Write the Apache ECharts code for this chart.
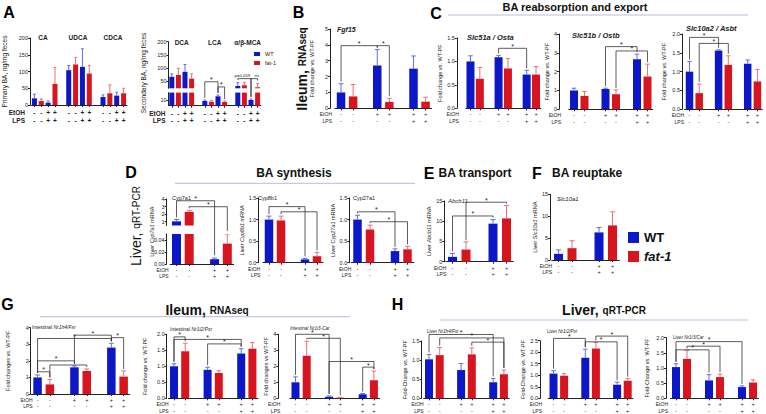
<!DOCTYPE html>
<html>
<head>
<meta charset="utf-8">
<script src="https://cdn.jsdelivr.net/npm/echarts@6.0.0/dist/echarts.min.js"></script>
<style>
html,body{margin:0;padding:0;background:#fff;}
#chart{width:766px;height:414px;}
</style>
</head>
<body>
<div id="chart"></div>
<script>
// ================= DATA =================
// treatment sign rows (tick labels)
const etoh6 = ['-', '-', '', '+', '+', '', '+', '+'];
const lps6  = ['-', '-', '', '-', '-', '', '+', '+'];
const etoh4 = ['-', '-', '', '+', '+'];
const lps4  = ['-', '-', '', '+', '+'];
const signsA = ['-', '-', '+', '+', '', '-', '-', '+', '+', '', '-', '-', '+', '+'];

// A: fecal bile acids (per BA: PF, EtOH+LPS)
const primaryBA = ['CA', 'UDCA', 'CDCA'];
const primary_wt = [20, 7, 104, 114, 24, 28];
const primary_wtSem = [12, 5, 14, 54, 6, 10];
const primary_fat = [12, 63, 121, 94, 35, 35];
const primary_fatSem = [6, 49, 21, 24, 25, 15];

const secondaryBA = ['DCA', 'LCA', 'α/β-MCA'];
const secondary_wt = [66, 85, 8.2, 16.5, 31, 10];
const secondary_wtSem = [11, 28, 1.8, 2.3, 12.6, 1.8];
const secondary_fat = [73, 59, 7, 6.5, 33.5, 26];
const secondary_fatSem = [25, 18, 2.4, 1.7, 11.5, 15];
const secondaryTicksTop = [50, 100, 150, 200];
const secondaryTicksBottom = [0, 10, 20];
const secondary_sig = [[5, 7, 42, '*'], [7, 8, 33, '*'], [10, 12, 47.5, 'p=0.059', 41.5, null, -2], [12, 13, 47.5, 'ns', null, 40.5, 2.5]];

// B: ileum Fgf15
const fgf15_wt = [1.0, 2.7, 2.5];
const fgf15_wtSem = [0.55, 1.0, 0.8];
const fgf15_fat = [0.75, 0.4, 0.42];
const fgf15_fatSem = [0.75, 0.23, 0.28];
const fgf15_sig = [[0, 3, 3.95, '*'], [3, 4, 3.95, '*']];

// C: reabsorption and export
const osta_wt = [1.0, 1.09, 0.72];
const osta_wtSem = [0.12, 0.04, 0.09];
const osta_fat = [0.63, 0.85, 0.72];
const osta_fatSem = [0.24, 0.21, 0.17];
const osta_sig = [[3, 6, 1.28, '*']];

const ostb_wt = [1.0, 1.08, 2.66];
const ostb_wtSem = [0.12, 0.04, 0.27];
const ostb_fat = [0.71, 0.8, 1.74];
const ostb_fatSem = [0.23, 0.23, 0.66];
const ostb_sig = [[3, 6, 3.33, '*'], [4, 7, 3.1, '*']];

const asbt_wt = [1.0, 1.56, 1.21];
const asbt_wtSem = [0.27, 0.02, 0.1];
const asbt_fat = [0.43, 1.18, 0.74];
const asbt_fatSem = [0.24, 0.24, 0.32];
const asbt_sig = [[0, 3, 1.91, '*'], [1, 4, 1.75, '*']];

// D: BA synthesis (PF, EtOH+LPS)
const cyp7a1_wt = [1.05, 0.008];
const cyp7a1_wtSem = [0.25, 0.002];
const cyp7a1_fat = [2.3, 0.034];
const cyp7a1_fatSem = [0.2, 0.016];
const cyp7a1_sig = [[0, 3, 3.77, '*', null, -3.7], [1, 4, 2.98, '*', null, -0.5]];

const cyp8b1_wt = [1.0, 0.077];
const cyp8b1_wtSem = [0.08, 0.023];
const cyp8b1_fat = [0.98, 0.15];
const cyp8b1_fatSem = [0.1, 0.09];
const cyp8b1_sig = [[0, 3, 1.3, '*'], [1, 4, 1.18, '*']];

const cyp27a1_wt = [1.0, 0.27];
const cyp27a1_wtSem = [0.1, 0.05];
const cyp27a1_fat = [0.77, 0.31];
const cyp27a1_fatSem = [0.1, 0.07];
const cyp27a1_sig = [[0, 3, 1.18, '*'], [1, 4, 0.95, '*']];

// E, F
const abcb11_wt = [1.2, 9.4];
const abcb11_wtSem = [0.85, 1.0];
const abcb11_fat = [3.0, 10.7];
const abcb11_fatSem = [1.9, 3.2];
const abcb11_sig = [[0, 3, 11.3, '*'], [1, 4, 14.7, '*']];

const slc10a1_wt = [1.4, 6.3];
const slc10a1_wtSem = [0.9, 1.1];
const slc10a1_fat = [2.7, 7.9];
const slc10a1_fatSem = [1.7, 3.1];

// G: ileum RNAseq
const iFxr_wt = [1.0, 1.61, 2.8];
const iFxr_wtSem = [0.15, 0.08, 0.26];
const iFxr_fat = [0.58, 1.39, 1.05];
const iFxr_fatSem = [0.3, 0.12, 0.34];
const iFxr_sig = [[0, 6, 3.35, '*'], [3, 6, 3.55, '*'], [6, 7, 3.4, '*'], [0, 3, 2.0, '*'], [1, 4, 1.75, ''], [0, 1, 1.34, '*']];

const iPxr_wt = [1.0, 0.89, 1.4];
const iPxr_wtSem = [0.08, 0.08, 0.15];
const iPxr_fat = [1.47, 0.79, 1.55];
const iPxr_fatSem = [0.25, 0.07, 0.19];
const iPxr_sig = [[0, 1, 1.92, '*'], [0, 6, 1.84, '*'], [3, 6, 1.7, '*']];

const iCar_wt = [1.0, 0.1, 0.25];
const iCar_wtSem = [0.34, 0.05, 0.05];
const iCar_fat = [2.66, 0.04, 1.13];
const iCar_fatSem = [0.91, 0.02, 0.57];
const iCar_sig = [[0, 3, 4.0, '*'], [1, 4, 3.75, '*'], [3, 7, 2.3, '*'], [6, 7, 1.95, '*']];

// H: liver qRT-PCR
const lFxr_wt = [1.02, 0.74, 0.42];
const lFxr_wtSem = [0.13, 0.17, 0.1];
const lFxr_fat = [1.13, 1.15, 0.63];
const lFxr_fatSem = [0.2, 0.17, 0.11];
const lFxr_sig = [[0, 6, 1.67, '*'], [1, 7, 1.58, '*'], [4, 7, 1.47, '*']];

const lPxr_wt = [1.07, 1.76, 0.59];
const lPxr_wtSem = [0.13, 0.37, 0.11];
const lPxr_fat = [0.98, 2.16, 0.76];
const lPxr_fatSem = [0.09, 0.27, 0.09];
const lPxr_sig = [[0, 3, 2.6, '*'], [4, 7, 2.7, '*'], [3, 6, 2.45, '*']];

const lCar_wt = [1.03, 0.59, 0.37];
const lCar_wtSem = [0.11, 0.19, 0.04];
const lCar_fat = [1.3, 0.7, 0.52];
const lCar_fatSem = [0.28, 0.1, 0.09];
const lCar_sig = [[0, 6, 1.87, '*'], [1, 4, 1.72, '*'], [0, 3, 1.6, '*']];

// ================= BUILD =================
const FONT = '"Liberation Sans", Arial, Helvetica, sans-serif';
const BLUE = '#0c17c8', RED = '#d8141f', BLUE_E = '#5e6de4', RED_E = '#ea6e74', INK = '#222';
const option = {animation: false, textStyle: {fontFamily: FONT}, grid: [], xAxis: [], yAxis: [], series: [], graphic: [], legend: []};

function fnt(size, weight, style) { return (style || 'normal') + ' ' + (weight || 'normal') + ' ' + size + 'px ' + FONT; }

function T(text, x, y, o) {
  o = o || {};
  const al = o.align || 'left';
  const st = {text: text, font: o.font || fnt(5.5), fill: o.color || INK, align: al, textAlign: al, verticalAlign: 'middle', textVerticalAlign: 'middle'};
  if (o.rich) st.rich = o.rich;
  option.graphic.push({type: 'text', x: x, y: y, rotation: o.rot || 0, silent: true, z: 10, style: st});
}
function LINE(x1, y1, x2, y2, c) {
  option.graphic.push({type: 'line', silent: true, shape: {x1: x1, y1: y1, x2: x2, y2: y2}, style: {stroke: c || '#b4bde3', lineWidth: 1}});
}

function layoutInfo(kind) {
  if (kind === 'A') return {n: 14, wt: [0, 2, 5, 7, 10, 12], fat: [1, 3, 6, 8, 11, 13], etoh: signsA, lps: signsA};
  if (kind === '6') return {n: 8, wt: [0, 3, 6], fat: [1, 4, 7], etoh: etoh6, lps: lps6};
  return {n: 5, wt: [0, 3], fat: [1, 4], etoh: etoh4, lps: lps4};
}

const RICH_NAME = {i: {fontStyle: 'italic', fontSize: 5.5, color: INK}};

function errRenderer(barW) {
  return function (params, api) {
    const x = api.value(0), v = api.value(1), s = api.value(2), c = api.value(3);
    const p0 = api.coord([x, v]), p1 = api.coord([x, v + s]);
    const hw = barW * 0.28;
    const col = c ? RED_E : BLUE_E;
    return {type: 'group', children: [
      {type: 'line', shape: {x1: p0[0], y1: p0[1], x2: p0[0], y2: p1[1]}, style: {stroke: col, lineWidth: 1}},
      {type: 'line', shape: {x1: p0[0] - hw, y1: p1[1], x2: p0[0] + hw, y2: p1[1]}, style: {stroke: col, lineWidth: 1}}
    ]};
  };
}

function sigRenderer(sig, cap) {
  return function (params, api) {
    const b = sig[params.dataIndex];
    const a = api.coord([b[0], b[2]]);
    const c = api.coord([b[1], b[2]]);
    const y = a[1];
    const da = (b[4] !== undefined && b[4] !== null) ? b[4] : cap[b[0]];
    const db = (b[5] !== undefined && b[5] !== null) ? b[5] : cap[b[1]];
    const ya = Math.max(y, api.coord([b[0], da])[1] - 2);
    const yb = Math.max(y, api.coord([b[1], db])[1] - 2);
    const small = b[3].length > 1;
    const dx = b[6] || 0;
    return {type: 'group', children: [
      {type: 'polyline', shape: {points: [[a[0], ya], [a[0], y], [c[0], y], [c[0], yb]]}, style: {stroke: '#333', lineWidth: 0.8, fill: 'none'}},
      {type: 'text', x: (a[0] + c[0]) / 2 + dx, y: small ? y - 1 : y + 1.5, style: {text: b[3], fill: '#222', font: small ? fnt(4.3) : fnt(7), align: 'center', textAlign: 'center', verticalAlign: 'bottom', textVerticalAlign: 'bottom'}}
    ]};
  };
}

function addPanel(p) {
  const L = layoutInfo(p.kind);
  const wtData = Array(L.n).fill(null), fatData = Array(L.n).fill(null), cap = Array(L.n).fill(0);
  const errData = [];
  L.wt.forEach(function (s, i) { wtData[s] = p.wt[i]; cap[s] = p.wt[i] + p.wtSem[i]; errData.push([s, p.wt[i], p.wtSem[i], 0]); });
  L.fat.forEach(function (s, i) { fatData[s] = p.fat[i]; cap[s] = p.fat[i] + p.fatSem[i]; errData.push([s, p.fat[i], p.fatSem[i], 1]); });
  const cats = Array.from({length: L.n}, function (_, i) { return 'c' + i; });
  const big = p.kind === 'A';
  p.segs.forEach(function (seg, k) {
    const last = k === p.segs.length - 1;
    const gi = option.grid.length;
    option.grid.push({left: p.left, top: seg.top, width: p.width, height: seg.height});
    option.xAxis.push({
      gridIndex: gi, type: 'category', data: cats, show: last,
      axisLine: {show: true, onZero: false, lineStyle: {color: INK, width: 1}},
      axisTick: {show: true, alignWithLabel: true, length: 2, lineStyle: {color: INK}, interval: function (i) { return L.etoh[i] !== ''; }},
      axisLabel: {interval: 0, hideOverlap: false, color: INK, fontSize: big ? 6.5 : 5.5, fontWeight: big ? 'bold' : 'normal',
        lineHeight: big ? 7.5 : 6.3, margin: big ? 4 : 3,
        formatter: function (v, i) { return L.etoh[i] === '' ? '' : L.etoh[i] + '\n' + L.lps[i]; }},
      splitLine: {show: false}
    });
    const dec = seg.dec !== undefined ? seg.dec : p.dec;
    const y = {gridIndex: gi, type: 'value', min: seg.min, max: seg.max, offset: p.offset,
      axisLine: {show: true, lineStyle: {color: INK, width: 1}},
      axisTick: {show: true, length: 2, lineStyle: {color: INK}},
      axisLabel: {show: true, fontSize: 5.5, color: INK, margin: 2, hideOverlap: false, formatter: function (v) { return (+v).toFixed(dec); }},
      splitLine: {show: false}};
    if (seg.interval) y.interval = seg.interval;
    if (seg.ticks) { y.axisTick.customValues = seg.ticks; y.axisLabel.customValues = seg.ticks; }
    if (p.yname && !p.ynameXY) {
      y.name = p.yname; y.nameLocation = 'middle'; y.nameGap = p.nameGap; y.nameRotate = 90;
      y.nameTextStyle = {fontSize: p.nameSize || 5.5, color: INK, rich: RICH_NAME};
    }
    option.yAxis.push(y);
    option.series.push({type: 'bar', name: 'WT', xAxisIndex: gi, yAxisIndex: gi, data: wtData, barWidth: p.barW, barGap: '-100%', itemStyle: {color: BLUE}, clip: true, silent: true});
    option.series.push({type: 'bar', name: 'fat-1', xAxisIndex: gi, yAxisIndex: gi, data: fatData, barWidth: p.barW, barGap: '-100%', itemStyle: {color: RED}, clip: true, silent: true});
    option.series.push({type: 'custom', name: 'err', xAxisIndex: gi, yAxisIndex: gi, data: errData, clip: true, silent: true, z: 3, encode: {x: 0, y: 1}, renderItem: errRenderer(p.barW)});
    if (p.sig && p.sig.length && k === (p.sigSeg || 0)) {
      option.series.push({type: 'custom', name: 'sig', xAxisIndex: gi, yAxisIndex: gi, data: p.sig.map(function (b) { return [b[0], b[2]]; }), clip: false, silent: true, z: 4, encode: {x: 0, y: 1}, renderItem: sigRenderer(p.sig, cap)});
    }
  });
  const axisX = p.left - p.offset;
  const ls = p.segs[p.segs.length - 1];
  const axisY = ls.top + ls.height;
  if (big) {
    T('EtOH', axisX - 3, axisY + 7.75, {align: 'right', font: fnt(6.5, 'bold')});
    T('LPS', axisX - 3, axisY + 15.25, {align: 'right', font: fnt(6.5, 'bold')});
  } else {
    T('EtOH', axisX + 2, axisY + 6.15, {align: 'right', font: fnt(5)});
    T('LPS', axisX + 2, axisY + 12.45, {align: 'right', font: fnt(5)});
  }
  if (p.ynameXY) {
    T(p.yname, p.ynameXY[0], p.ynameXY[1], {align: 'center', rot: Math.PI / 2, font: fnt(p.nameSize || 5.5), rich: {i: {fontStyle: 'italic', fontSize: p.nameSize || 5.5, fontFamily: FONT, fill: INK}}});
  }
  if (p.groupTitles) {
    const slot = p.width / L.n;
    p.groupTitles.forEach(function (t, g) { T(t, p.left + (g * 5 + 2) * slot, p.groupTitleY, {align: 'center', font: fnt(6.5, 'bold')}); });
  }
}

const panels = [
  {kind: 'A', left: 29, width: 98, offset: 1, barW: 5, dec: 0, wt: primary_wt, wtSem: primary_wtSem, fat: primary_fat, fatSem: primary_fatSem,
   segs: [{top: 38, height: 67, min: 0, max: 200, interval: 50}], yname: 'Primary BA, ng/mg feces', nameGap: 22, nameSize: 6.5,
   groupTitles: primaryBA, groupTitleY: 37},
  {kind: 'A', left: 168.5, width: 92.4, offset: 0, barW: 5, dec: 0, wt: secondary_wt, wtSem: secondary_wtSem, fat: secondary_fat, fatSem: secondary_fatSem,
   segs: [{top: 41.7, height: 46.6, min: 22, max: 200, ticks: secondaryTicksTop}, {top: 92.6, height: 13.1, min: 0, max: 23, ticks: secondaryTicksBottom}],
   sig: secondary_sig, sigSeg: 1, yname: 'Secondary BA, ng/mg feces', ynameXY: [143, 73], nameSize: 6.5,
   groupTitles: secondaryBA, groupTitleY: 42},
  {kind: '6', left: 335, width: 96.6, offset: 5, barW: 8.5, dec: 0, wt: fgf15_wt, wtSem: fgf15_wtSem, fat: fgf15_fat, fatSem: fgf15_fatSem,
   segs: [{top: 29, height: 79.3, min: 0, max: 5, interval: 1}], sig: fgf15_sig, yname: 'Fold change vs. WT-PF', nameGap: 15},
  {kind: '6', left: 465.8, width: 74.9, offset: 9, barW: 8, dec: 1, wt: osta_wt, wtSem: osta_wtSem, fat: osta_fat, fatSem: osta_fatSem,
   segs: [{top: 38, height: 70.3, min: 0, max: 1.5, interval: 0.5}], sig: osta_sig, yname: 'Fold change vs. WT-PF', nameGap: 14},
  {kind: '6', left: 568.75, width: 84, offset: 9.75, barW: 8, dec: 0, wt: ostb_wt, wtSem: ostb_wtSem, fat: ostb_fat, fatSem: ostb_fatSem,
   segs: [{top: 34, height: 75.3, min: 0, max: 4, interval: 1}], sig: ostb_sig, yname: 'Fold change vs. WT-PF', nameGap: 8},
  {kind: '6', left: 684.65, width: 77.6, offset: 2.65, barW: 7.5, dec: 1, wt: asbt_wt, wtSem: asbt_wtSem, fat: asbt_fat, fatSem: asbt_fatSem,
   segs: [{top: 34, height: 75.3, min: 0, max: 2, interval: 0.5}], sig: asbt_sig, yname: 'Fold change vs. WT-PF', nameGap: 15},
  {kind: '4', left: 170.15, width: 63.5, offset: 3.5, barW: 9, dec: 0, wt: cyp7a1_wt, wtSem: cyp7a1_wtSem, fat: cyp7a1_fat, fatSem: cyp7a1_fatSem,
   segs: [{top: 199, height: 26.5, min: 0.5, max: 4, ticks: [1, 2, 3, 4]}, {top: 234, height: 30, min: 0, max: 0.05, ticks: [0, 0.02, 0.04], dec: 2}],
   sig: cyp7a1_sig, sigSeg: 0, yname: 'Liver {i|Cyp7a1} mRNA', ynameXY: [152, 231.7]},
  {kind: '4', left: 263, width: 60, offset: 4.7, barW: 8.5, dec: 1, wt: cyp8b1_wt, wtSem: cyp8b1_wtSem, fat: cyp8b1_fat, fatSem: cyp8b1_fatSem,
   segs: [{top: 198, height: 64.7, min: 0, max: 1.5, interval: 0.5}], sig: cyp8b1_sig, yname: 'Liver {i|Cyp8b1} mRNA', nameGap: 11.6},
  {kind: '4', left: 351.25, width: 62.5, offset: 2, barW: 8.5, dec: 1, wt: cyp27a1_wt, wtSem: cyp27a1_wtSem, fat: cyp27a1_fat, fatSem: cyp27a1_fatSem,
   segs: [{top: 198, height: 64.7, min: 0, max: 1.5, interval: 0.5}], sig: cyp27a1_sig, yname: 'Liver {i|Cyp27a1} mRNA', nameGap: 13.6},
  {kind: '4', left: 445.75, width: 67.5, offset: 1.5, barW: 9, dec: 0, wt: abcb11_wt, wtSem: abcb11_wtSem, fat: abcb11_fat, fatSem: abcb11_fatSem,
   segs: [{top: 201, height: 60.7, min: 0, max: 15, interval: 5}], sig: abcb11_sig, yname: 'Liver {i|Abcb11} mRNA', nameGap: 12},
  {kind: '4', left: 551.75, width: 67.5, offset: 1.75, barW: 9, dec: 0, wt: slc10a1_wt, wtSem: slc10a1_wtSem, fat: slc10a1_fat, fatSem: slc10a1_fatSem,
   segs: [{top: 194.3, height: 65.7, min: 0, max: 15, interval: 5}], sig: [], yname: 'Liver {i|Slc10a1} mRNA', nameGap: 12},
  {kind: '6', left: 31.4, width: 98.4, offset: 0.7, barW: 8.5, dec: 0, wt: iFxr_wt, wtSem: iFxr_wtSem, fat: iFxr_fat, fatSem: iFxr_fatSem,
   segs: [{top: 327.7, height: 66.3, min: 0, max: 4, interval: 1}], sig: iFxr_sig, yname: 'Fold changes vs. WT-PF', nameGap: 20},
  {kind: '6', left: 168.4, width: 89.6, offset: 1.7, barW: 8, dec: 1, wt: iPxr_wt, wtSem: iPxr_wtSem, fat: iPxr_fat, fatSem: iPxr_fatSem,
   segs: [{top: 334.3, height: 64, min: 0, max: 2, interval: 0.5}], sig: iPxr_sig, yname: 'Fold change vs. WT-PF', nameGap: 19},
  {kind: '6', left: 289.9, width: 89.6, offset: 11.6, barW: 8, dec: 0, wt: iCar_wt, wtSem: iCar_wtSem, fat: iCar_fat, fatSem: iCar_fatSem,
   segs: [{top: 334.3, height: 64, min: 0, max: 4, interval: 1}], sig: iCar_sig, yname: 'Fold changes vs WT-PF', nameGap: 8.3},
  {kind: '6', left: 423.65, width: 85.6, offset: 2, barW: 8, dec: 1, wt: lFxr_wt, wtSem: lFxr_wtSem, fat: lFxr_fat, fatSem: lFxr_fatSem,
   segs: [{top: 341, height: 57.3, min: 0, max: 1.5, interval: 0.5}], sig: lFxr_sig, yname: 'Fold-Change vs. WT-PF', nameGap: 11.7},
  {kind: '6', left: 548.2, width: 84.8, offset: 8.2, barW: 8, dec: 1, wt: lPxr_wt, wtSem: lPxr_wtSem, fat: lPxr_fat, fatSem: lPxr_fatSem,
   segs: [{top: 340.7, height: 57.6, min: 0, max: 2.5, interval: 0.5}], sig: lPxr_sig, yname: 'Fold-Change vs. WT-PF', nameGap: 12},
  {kind: '6', left: 670.5, width: 88, offset: 4.5, barW: 8, dec: 1, wt: lCar_wt, wtSem: lCar_wtSem, fat: lCar_fat, fatSem: lCar_fatSem,
   segs: [{top: 337.7, height: 60.6, min: 0, max: 2, interval: 0.5}], sig: lCar_sig, yname: 'Fold-Change vs. WT-PF', nameGap: 16}
];
panels.forEach(addPanel);

// plot titles
const IT = fnt(7.5, 'bold', 'italic');
T('Fgf15', 337, 29, {font: fnt(7, 'bold', 'italic')});
T('Slc51a / Osta', 467, 37, {font: IT});
T('Slc51b / Ostb', 572, 35, {font: IT});
T('Slc10a2 / Asbt', 686, 28, {font: IT});
T('Cyp7a1', 172, 198, {font: fnt(5.5)});
T('Cyp8b1', 258, 198, {font: fnt(5.5)});
T('Cyp27a1', 353, 198, {font: fnt(5.5)});
T('Abcb11', 448, 201, {font: fnt(6, 'normal', 'italic')});
T('Slc10a1', 557, 199, {font: fnt(6, 'normal', 'italic')});
const RT = {r: {fontSize: 5, fontFamily: FONT, fill: INK}, i: {fontSize: 5, fontStyle: 'italic', fontFamily: FONT, fill: INK}};
const RT2 = {r: {fontSize: 4.6, fontFamily: FONT, fill: INK}, i: {fontSize: 4.6, fontStyle: 'italic', fontFamily: FONT, fill: INK}};
T('{r|Intestinal }{i|Nr1h4/Fxr}', 32, 327, {rich: RT});
T('{r|Intestinal }{i|Nr1i2/Pxr}', 170, 329.3, {rich: RT});
T('{i|Intestinal Nr1i3-Car}', 290, 328.3, {rich: RT2});
T('{r|Liver }{i|Nr1h4/Fxr}', 427, 331.7, {rich: RT2});
T('{r|Liver }{i|Nr1i2/Pxr}', 547, 331.7, {rich: RT2});
T('{r|Liver }{i|Nr1i3/Car}', 673, 337.2, {rich: RT2});

// panel letters
const LET = fnt(16, 'bold');
[['A', 9, 12.5], ['B', 298.5, 12], ['C', 436, 13], ['D', 131, 172.5], ['E', 429, 173], ['F', 537, 173], ['G', 7.5, 304], ['H', 397.5, 304]]
  .forEach(function (l) { T(l[0], l[1], l[2], {align: 'center', font: LET, color: '#000'}); });

// section headers
T('BA reabsorption and export', 575, 7, {align: 'center', font: fnt(11, 'bold'), color: '#111'});
LINE(448, 15, 748, 15);
T('BA synthesis', 294, 173.3, {align: 'center', font: fnt(12, 'bold'), color: '#111'});
LINE(175, 183.3, 415, 183.3);
T('BA transport', 475, 173.3, {align: 'center', font: fnt(12, 'bold'), color: '#111'});
T('BA reuptake', 552, 173.3, {font: fnt(12, 'bold'), color: '#111'});
const RH = {a: {fontSize: 14, fontWeight: 'bold', fontFamily: FONT, fill: '#111'}, b: {fontSize: 10, fontWeight: 'bold', fontFamily: FONT, fill: '#111'}};
const RHn = {a: {fontSize: 14, fontFamily: FONT, fill: '#111'}, b: {fontSize: 10, fontFamily: FONT, fill: '#111'}};
T('{a|Ileum, }{b|RNAseq}', 207, 310, {align: 'center', rich: RH});
LINE(40, 316.7, 350, 316.7);
T('{a|Liver, }{b|qRT-PCR}', 604, 310, {align: 'center', rich: RH});
LINE(440, 320, 748, 320);
T('{a|Ileum, }{b|RNAseq}', 302, 69, {align: 'center', rot: Math.PI / 2, rich: RH});
T('{a|Liver, }{b|qRT-PCR}', 136, 226, {align: 'center', rot: Math.PI / 2, rich: RHn});

// legends
option.legend.push({data: ['WT', 'fat-1'], left: 628, top: 231, orient: 'vertical', padding: 0, itemWidth: 11, itemHeight: 11, itemGap: 6, icon: 'rect', selectedMode: false,
  textStyle: {fontSize: 13, fontWeight: 'bold', color: '#111', rich: {i: {fontSize: 13, fontWeight: 'bold', fontStyle: 'italic', color: '#111'}}},
  formatter: function (n) { return n === 'fat-1' ? '{i|fat-1}' : n; }});
option.legend.push({data: ['WT', 'fat-1'], left: 254, top: 51, orient: 'vertical', padding: 0, itemWidth: 6, itemHeight: 4, itemGap: 3, icon: 'rect', selectedMode: false,
  textStyle: {fontSize: 5.5, color: '#222'}});

const chart = echarts.init(document.getElementById('chart'), null, {renderer: 'svg', width: 766, height: 414});
chart.setOption(option);
</script>
</body>
</html>
